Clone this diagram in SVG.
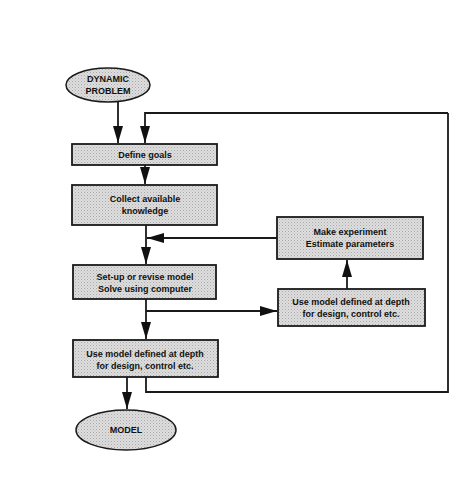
<svg xmlns="http://www.w3.org/2000/svg" width="474" height="503" viewBox="0 0 474 503">
<style>
.box{fill:url(#stip);stroke:#1a1a1a;stroke-width:1.8}
.ell{fill:url(#stip);stroke:#1a1a1a;stroke-width:1.5}
.t{font-family:"Liberation Sans",Arial,sans-serif;font-weight:bold;font-size:9px;fill:#111;text-anchor:middle}
.ln{fill:none;stroke:#1a1a1a;stroke-width:1.8}
</style>
<defs>
<pattern id="stip" width="3" height="3" patternUnits="userSpaceOnUse">
<rect width="3" height="3" fill="#dedede"/>
<rect x="0" y="0" width="1" height="1" fill="#a8a8a8"/>
<rect x="1.5" y="1.5" width="1" height="1" fill="#bdbdbd"/>
</pattern>
<marker id="ah" markerWidth="18" markerHeight="12" refX="17" refY="5.5" orient="auto" markerUnits="userSpaceOnUse">
<path d="M0,0.5 L17,5.5 L0,10.5 Z" fill="#111"/>
</marker>
</defs>
<rect width="474" height="503" fill="#fff"/>
<g id="connectors">
<path class="ln" d="M118,102 V143" marker-end="url(#ah)"/>
<path class="ln" d="M448,113 H145 V143" marker-end="url(#ah)"/>
<path class="ln" d="M145,165 V184" marker-end="url(#ah)"/>
<path class="ln" d="M146,225 V264" marker-end="url(#ah)"/>
<path class="ln" d="M277,238 H147" marker-end="url(#ah)"/>
<path class="ln" d="M146,299 V339" marker-end="url(#ah)"/>
<path class="ln" d="M146,311 H277" marker-end="url(#ah)"/>
<path class="ln" d="M347,289 V260" marker-end="url(#ah)"/>
<path class="ln" d="M146,377 V392 H448 V113"/>
<path class="ln" d="M127,377 V409" marker-end="url(#ah)"/>
</g>
<g id="dynamic-problem">
<ellipse class="ell" cx="108" cy="85" rx="42" ry="17"/>
<text class="t" x="108" y="82">DYNAMIC</text>
<text class="t" x="108" y="94">PROBLEM</text>
</g>
<g id="define-goals">
<rect class="box" x="72" y="144" width="145" height="21"/>
<text class="t" x="145" y="158">Define goals</text>
</g>
<g id="collect-knowledge">
<rect class="box" x="72" y="185" width="145" height="40"/>
<text class="t" x="145" y="202">Collect available</text>
<text class="t" x="145" y="214">knowledge</text>
</g>
<g id="setup-model">
<rect class="box" x="73" y="265" width="143" height="34"/>
<text class="t" x="145" y="280">Set-up or revise model</text>
<text class="t" x="145" y="292">Solve using computer</text>
</g>
<g id="use-model">
<rect class="box" x="73" y="340" width="145" height="37"/>
<text class="t" x="145" y="357">Use model defined at depth</text>
<text class="t" x="145" y="369">for design, control etc.</text>
</g>
<g id="model">
<ellipse class="ell" cx="126" cy="430" rx="50" ry="20"/>
<text class="t" x="126" y="433">MODEL</text>
</g>
<g id="make-experiment">
<rect class="box" x="277" y="217" width="146" height="42"/>
<text class="t" x="350" y="235">Make experiment</text>
<text class="t" x="350" y="247">Estimate parameters</text>
</g>
<g id="use-model-right">
<rect class="box" x="278" y="289" width="147" height="37"/>
<text class="t" x="351" y="305">Use model defined at depth</text>
<text class="t" x="351" y="317">for design, control etc.</text>
</g>
</svg>
